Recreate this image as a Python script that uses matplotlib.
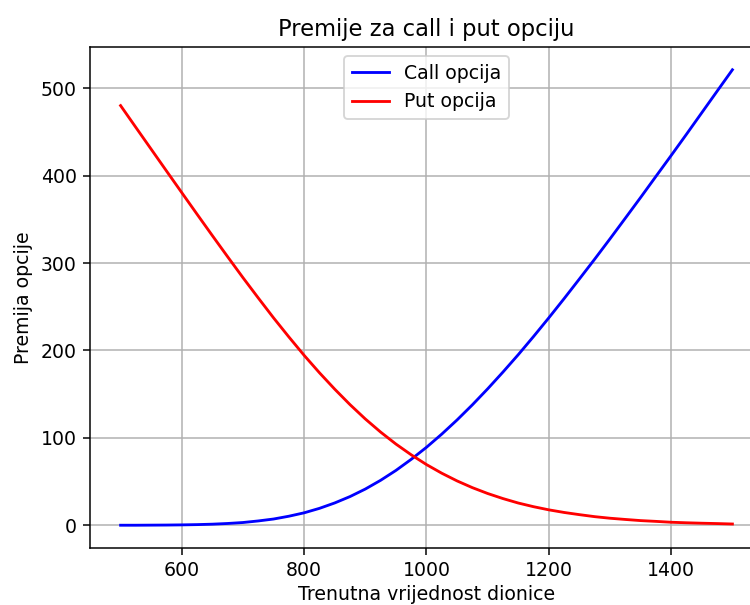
import matplotlib
matplotlib.use("Agg")
import matplotlib.pyplot as plt

# stock price (x) and option premiums
cijena_dionice = [500, 525, 550, 575, 600, 625, 650, 675, 700, 725, 750, 775, 800,
                  825, 850, 875, 900, 925, 950, 975, 1000, 1025, 1050, 1075, 1100,
                  1125, 1150, 1175, 1200, 1225, 1250, 1275, 1300, 1325, 1350, 1375,
                  1400, 1425, 1450, 1475, 1500]
call_premija = [0.0, 0.0, 0.1, 0.2, 0.4, 0.7, 1.2, 2.0, 3.1, 4.9, 7.1, 10.3, 14.2,
                19.3, 25.5, 32.8, 41.4, 51.4, 62.7, 75.4, 89.2, 104.3, 120.5, 137.8, 156.1,
                175.3, 195.2, 216.0, 237.4, 259.4, 281.9, 304.6, 327.8, 351.4, 375.1, 399.2,
                423.2, 447.5, 472.1, 496.7, 521.2]
put_premija = [480.2, 455.2, 430.3, 405.4, 380.6, 355.9, 331.4, 307.2, 283.3, 260.1, 237.3,
               215.5, 194.4, 174.5, 155.7, 138.0, 121.6, 106.6, 92.9, 80.6, 69.4, 59.5,
               50.7, 43.0, 36.3, 30.5, 25.4, 21.2, 17.6, 14.6, 12.1, 9.8, 8.0, 6.6, 5.3,
               4.4, 3.4, 2.8, 2.3, 1.9, 1.4]

DPI = 135.6
fig = plt.figure(figsize=(750 / DPI, 605 / DPI), dpi=DPI)
# axes run slightly past the right edge, as in the (cropped) reference
ax = fig.add_axes([90 / 750, 57 / 605, 673 / 750, 501 / 605])

ax.plot(cijena_dionice, call_premija, color="b", label="Call opcija")
ax.plot(cijena_dionice, put_premija, color="r", label="Put opcija")
ax.set_title("Premije za call i put opciju")
ax.set_xlabel("Trenutna vrijednost dionice", labelpad=2.5)
ax.set_ylabel("Premija opcije")
ax.legend(loc="upper center")
ax.grid(True)

fig.savefig("out.png", dpi=DPI)
